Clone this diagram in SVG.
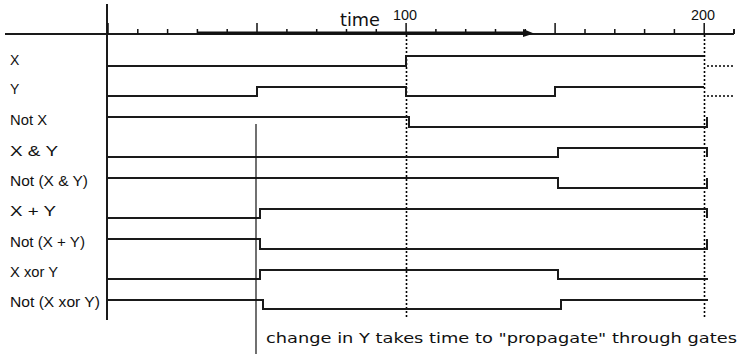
<svg xmlns="http://www.w3.org/2000/svg" width="747" height="360" viewBox="0 0 747 360">
<style>
.sig{fill:none;stroke:#1a1a1a;stroke-width:2}
.dot{fill:none;stroke:#000;stroke-width:1.6;stroke-dasharray:2 2}
.tick{stroke:#111;stroke-width:1.5}
.lbl{font-family:"Liberation Sans",Arial,sans-serif;font-size:14px;fill:#111}
.num{font-family:"Liberation Sans",Arial,sans-serif;font-size:14px;fill:#111}
</style>
<rect width="747" height="360" fill="#fff"/>
<g id="axis">
<path d="M5,34 H734 M734,29 V34" class="sig"/>
<path d="M107,4 V320" class="sig"/>
<path class="tick" d="M137.8,29V34M167.6,29V34M197.4,29V34M227.2,29V34M257,23V34M286.9,29V34M316.7,29V34M346.5,29V34M376.3,29V34M406.1,23V34M435.9,29V34M465.7,29V34M495.5,29V34M525.3,29V34M555.1,23V34M585,29V34M614.8,29V34M644.6,29V34M674.4,29V34M704.2,23V34M108,23V34"/>
<path d="M197,33 H526" stroke="#111" stroke-width="3" fill="none"/>
<polygon points="523,29 534,33.5 523,37" fill="#111"/>
<text x="340" y="26" font-family="'DejaVu Sans',sans-serif" font-size="18" fill="#111" textLength="40" lengthAdjust="spacingAndGlyphs">time</text>
<text x="393" y="20" class="num" textLength="24" lengthAdjust="spacingAndGlyphs">100</text>
<text x="691" y="20" class="num" textLength="24" lengthAdjust="spacingAndGlyphs">200</text>
</g>
<g id="guides">
<path class="dot" d="M406.5,35 V318"/>
<path class="dot" d="M704.5,35 V318"/>
</g>
<g id="sig-x">
<text class="lbl" x="10" y="65">X</text>
<path class="sig" d="M107,66 H406 V56 H704"/>
<path class="dot" d="M707,66 H735"/>
</g>
<g id="sig-y">
<text class="lbl" x="10" y="94">Y</text>
<path class="sig" d="M107,96 H257 V87 H406 V96 H555 V87 H704"/>
<path class="dot" d="M707,96 H735"/>
</g>
<g id="sig-notx">
<text class="lbl" x="10" y="125" textLength="37" lengthAdjust="spacingAndGlyphs">Not X</text>
<path class="sig" d="M107,117 H409 V127 H707 V117"/>
</g>
<g id="sig-and">
<text class="lbl" x="10" y="156" textLength="48" lengthAdjust="spacingAndGlyphs">X &amp; Y</text>
<path class="sig" d="M107,157 H558 V148 H707 V157"/>
</g>
<g id="sig-nand">
<text class="lbl" x="10" y="186" textLength="78" lengthAdjust="spacingAndGlyphs">Not (X &amp; Y)</text>
<path class="sig" d="M107,178 H558 V188 H707 V178"/>
</g>
<g id="sig-or">
<text class="lbl" x="10" y="216" textLength="46" lengthAdjust="spacingAndGlyphs">X + Y</text>
<path class="sig" d="M107,218 H260 V209 H707 V218"/>
</g>
<g id="sig-nor">
<text class="lbl" x="10" y="247" textLength="75" lengthAdjust="spacingAndGlyphs">Not (X + Y)</text>
<path class="sig" d="M107,239 H260 V249 H707 V239"/>
</g>
<g id="sig-xor">
<text class="lbl" x="10" y="277" textLength="48" lengthAdjust="spacingAndGlyphs">X xor Y</text>
<path class="sig" d="M107,279 H260 V270 H558 V279 H708"/>
</g>
<g id="sig-xnor">
<text class="lbl" x="10" y="307" textLength="90" lengthAdjust="spacingAndGlyphs">Not (X xor Y)</text>
<path class="sig" d="M107,300 H263 V309 H561 V300 H708"/>
</g>
<g id="annotation">
<path d="M256,124 V354" stroke="#111" stroke-width="1.2" fill="none"/>
<text x="266" y="343" font-family="'DejaVu Sans',Verdana,sans-serif" font-size="14" fill="#111" textLength="471" lengthAdjust="spacingAndGlyphs">change in Y takes time to "propagate" through gates</text>
</g>
</svg>
